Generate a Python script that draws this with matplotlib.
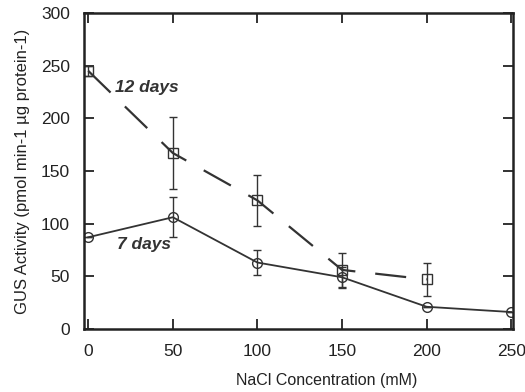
import matplotlib
matplotlib.use("Agg")
import matplotlib.pyplot as plt

plt.rcParams['font.family'] = ['Liberation Sans', 'DejaVu Sans']

nacl = [0, 50, 100, 150, 200, 250]
days7 = [87, 106, 63, 49, 21, 16]
days7_err = [0, 19, 12, 10, 0, 0]
nacl12 = [0, 50, 100, 150, 200]
days12 = [245, 167, 122, 56, 47]
days12_err = [5, 34, 24, 16, 16]

fig = plt.figure(figsize=(5.25, 3.92), dpi=100)
ax = fig.add_axes([0.16, 0.161, 0.817, 0.806])

ax.errorbar(nacl, days7, yerr=days7_err, color='#333333', lw=1.3,
            marker='o', ms=7, mfc='none', mec='#333333', mew=1.0,
            ecolor='#333333', elinewidth=1.0, capsize=3)
ax.errorbar(nacl12, days12, yerr=days12_err, color='#333333', lw=1.6,
            dashes=(14, 9), marker='s', ms=7, mfc='none', mec='#333333',
            mew=1.0, ecolor='#333333', elinewidth=1.0, capsize=3)

ax.text(16, 229, '12 days', fontsize=12.5, style='italic', fontweight='bold',
        color='#333333', va='center')
ax.text(17, 80, '7 days', fontsize=12.5, style='italic', fontweight='bold',
        color='#333333', va='center')

ax.set_xlim(-2.5, 251)
ax.set_ylim(0, 300)
ax.set_xticks([0, 50, 100, 150, 200, 250])
ax.set_yticks([0, 50, 100, 150, 200, 250, 300])
ax.tick_params(direction='in', top=True, right=True, length=7, width=1.3,
               labelsize=12.5, colors='#222222')
ax.tick_params(axis='x', pad=11)
ax.tick_params(axis='y', pad=10)
for s in ax.spines.values():
    s.set_linewidth(1.8)
    s.set_color('#222222')

ax.set_xlabel('NaCl Concentration (mM)', fontsize=11.5, color='#222222')
ax.xaxis.set_label_coords(0.566, -0.14)
ax.set_ylabel('GUS Activity (pmol min-1 \u00b5g protein-1)', fontsize=12,
              color='#222222', labelpad=8)

fig.savefig('out.png', dpi=100)
